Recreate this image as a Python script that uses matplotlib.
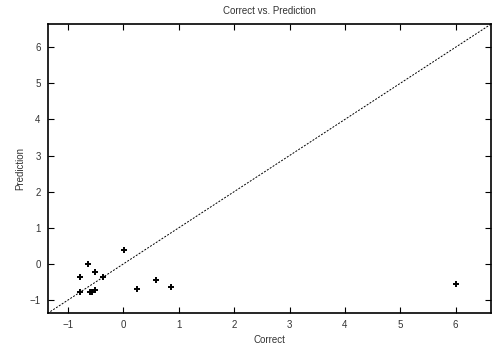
import matplotlib
matplotlib.use("Agg")
import matplotlib.pyplot as plt
import numpy as np

plt.rcParams['font.family'] = ['Liberation Sans', 'DejaVu Sans']

correct = [0.02, -0.64, -0.78, -0.51, -0.37, -0.78, -0.61, -0.57, -0.51, 0.24, 0.58, 0.86, 6.01]
prediction = [0.39, -0.01, -0.35, -0.22, -0.37, -0.79, -0.77, -0.77, -0.72, -0.70, -0.44, -0.65, -0.55]
lims = [-1.37, 6.63]
xticks = [-1, 0, 1, 2, 3, 4, 5, 6]
yticks = [-1, 0, 1, 2, 3, 4, 5, 6]

fig = plt.figure(figsize=(4.95, 3.49), dpi=100)
ax = fig.add_axes([0.096, 0.102, 0.895, 0.828])
ax.plot(lims, lims, linestyle=(0, (2, 1.5)), color='black', linewidth=0.7)
ax.scatter(correct, prediction, marker='+', s=22, color='black', linewidths=1.4, zorder=3)
ax.set_xlim(lims)
ax.set_ylim(lims)
ax.set_xticks(xticks)
ax.set_yticks(yticks)
ax.tick_params(direction='in', top=True, right=True, length=4, width=0.8,
               labelsize=7, labelcolor='#333333', pad=5)
for s in ax.spines.values():
    s.set_linewidth(1.2)
ax.set_xlabel('Correct', fontsize=7, color='#333333', labelpad=3)
ax.set_ylabel('Prediction', fontsize=7, color='#333333', labelpad=3)
ax.set_title('Correct vs. Prediction', fontsize=7, color='#333333', pad=7.5)
fig.savefig('out.png', dpi=100)
